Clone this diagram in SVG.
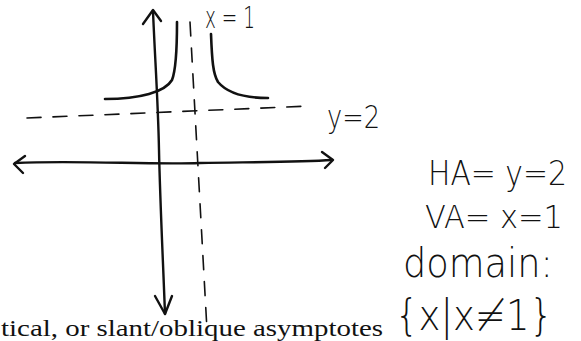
<svg xmlns="http://www.w3.org/2000/svg" width="581" height="341" viewBox="0 0 581 341">
<style>
.ink{fill:none;stroke:#111;stroke-linecap:round;stroke-linejoin:round}
.axis{stroke-width:2.4}
.curve{stroke-width:2.6}
.dash{stroke-width:1.6;stroke-dasharray:14 12}
.hw{font-family:"DejaVu Sans","Liberation Sans",sans-serif;font-weight:300;fill:#111}
.print{font-family:"Liberation Serif",serif;fill:#111}
</style>
<rect width="581" height="341" fill="#fff"/>
<g id="connectors">
<g id="y-axis">
<path class="ink axis" d="M153,11 C155,60 158,100 159,150 C160,200 163,260 165,314"/>
<path class="ink axis" d="M143,24 L153,10 L161,21"/>
<path class="ink axis" d="M155,296 L165,314 L172,296"/>
</g>
<g id="x-axis">
<path class="ink axis" d="M15,163 C80,160 150,165 200,163 C260,162 300,162 332,160"/>
<path class="ink axis" d="M25,156 L14,164 L23,173"/>
<path class="ink axis" d="M322,152 L333,160 L325,168"/>
</g>
<path id="asymptote-h" class="ink dash" d="M27,118 L310,106"/>
<path id="asymptote-v" class="ink dash" d="M190,22 L207,330"/>
</g>
<g id="branch-left">
<path class="ink curve" d="M177,22 C177,50 176,70 172,80 C165,92 140,99 105,99"/>
</g>
<g id="branch-right">
<path class="ink curve" d="M211,34 C212,60 213,74 218,82 C228,94 245,98 268,98"/>
</g>
<g id="label-x1"><text class="hw" x="205" y="28" font-size="30" textLength="50" lengthAdjust="spacingAndGlyphs">x = 1</text></g>
<g id="label-y2"><text class="hw" x="327" y="128" font-size="32" textLength="53" lengthAdjust="spacingAndGlyphs">y=2</text></g>
<g id="notes">
<text class="hw" x="428" y="185" font-size="33" textLength="139" lengthAdjust="spacingAndGlyphs">HA= y=2</text>
<text class="hw" x="425" y="228" font-size="32" textLength="138" lengthAdjust="spacingAndGlyphs">VA= x=1</text>
<text class="hw" x="403" y="277" font-size="40" textLength="150" lengthAdjust="spacingAndGlyphs">domain:</text>
<text class="hw" x="395" y="330" font-size="42" textLength="158" lengthAdjust="spacingAndGlyphs">{x|x≠1}</text>
</g>
<g id="caption"><text class="print" x="1" y="336" font-size="23" textLength="382" lengthAdjust="spacingAndGlyphs">tical, or slant/oblique asymptotes</text></g>
</svg>
